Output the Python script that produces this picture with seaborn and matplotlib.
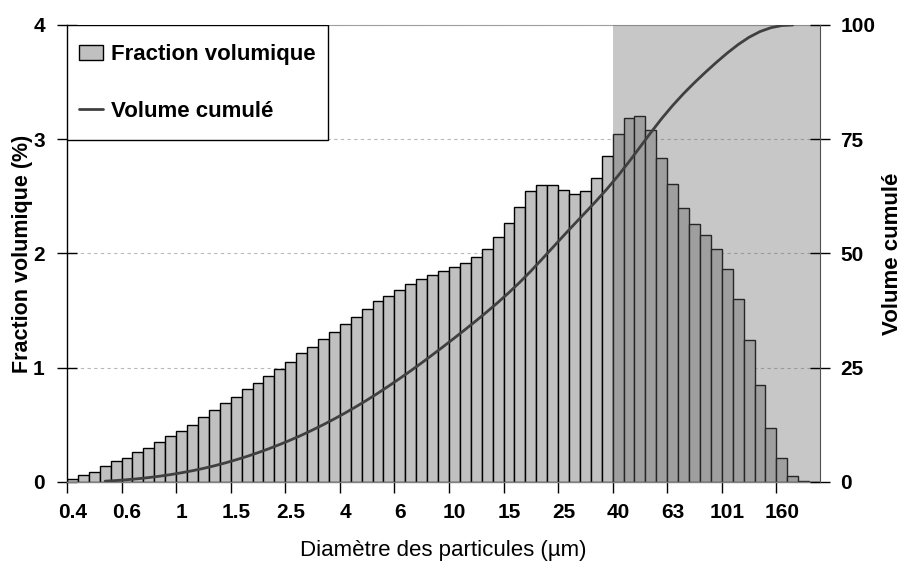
import numpy as np
import pandas as pd
import seaborn as sns
import matplotlib.pyplot as plt
from matplotlib.patches import Patch, Rectangle
from matplotlib.lines import Line2D

# Fraction volumique (%) par classe de diametre (69 classes, echelle log)
fraction = [0.03, 0.06, 0.09, 0.14, 0.18, 0.21, 0.26, 0.30, 0.35, 0.40,
            0.45, 0.50, 0.57, 0.63, 0.69, 0.74, 0.81, 0.87, 0.93, 0.99,
            1.05, 1.13, 1.18, 1.25, 1.31, 1.38, 1.44, 1.51, 1.58, 1.63,
            1.68, 1.73, 1.78, 1.81, 1.85, 1.88, 1.92, 1.97, 2.04, 2.14,
            2.27, 2.41, 2.55, 2.60, 2.60, 2.56, 2.52, 2.55, 2.66, 2.85,
            3.05, 3.19, 3.20, 3.08, 2.84, 2.61, 2.40, 2.26, 2.16, 2.04,
            1.86, 1.60, 1.24, 0.85, 0.47, 0.21, 0.05, 0.01, 0.00]

# Volume cumule (%)
cumul = [np.nan, np.nan, np.nan, 0.18, 0.32, 0.50, 0.71, 0.97, 1.27, 1.62,
         2.02, 2.47, 2.97, 3.54, 4.17, 4.86, 5.60, 6.41, 7.28, 8.21,
         9.20, 10.25, 11.38, 12.56, 13.81, 15.12, 16.50, 17.94, 19.45, 21.03,
         22.66, 24.34, 26.07, 27.85, 29.66, 31.51, 33.39, 35.31, 37.28, 39.32,
         41.46, 43.73, 46.14, 48.69, 51.29, 53.89, 56.45, 58.97, 61.52, 64.18,
         67.03, 70.08, 73.27, 76.47, 79.55, 82.39, 85.00, 87.40, 89.66, 91.82,
         93.86, 95.72, 97.32, 98.56, 99.41, 99.88, 100.0, np.nan, np.nan]

# une etiquette toutes les 5 classes
etiquettes = ["0.4", "0.6", "1", "1.5", "2.5", "4", "6", "10", "15", "25",
              "40", "63", "101", "160"]

df = pd.DataFrame({"classe": range(len(fraction)), "fraction": fraction, "cumul": cumul})

sns.set_theme(style="white")
plt.rcParams['font.family'] = ['Liberation Sans', 'DejaVu Sans']
plt.rcParams['text.color'] = 'black'
plt.rcParams['xtick.color'] = 'black'
plt.rcParams['ytick.color'] = 'black'
plt.rcParams['axes.labelcolor'] = 'black'

fig = plt.figure(figsize=(9.04, 5.63), dpi=100)
ax = fig.add_axes([0.0741, 0.1439, 0.833, 0.8117])

ax.grid(axis='y', color='#b8b8b8', linestyle=(0, (3, 3)), linewidth=0.8, zorder=0)
ax.set_axisbelow(True)

# histogramme
sns.barplot(data=df, x="classe", y="fraction", color="#c0c0c0", edgecolor="black",
            linewidth=1, width=1, saturation=1, errorbar=None, ax=ax, zorder=2)

# zone grisee au dela de 40 um
ax.axvspan(49.5, 68.5, color='#686868', alpha=0.37, lw=0, zorder=3)

ax.set_xlim(-0.5, 68.5)
ax.set_ylim(0, 4)
ax.set_xticks(range(0, 69, 5))
ax.set_xticklabels(etiquettes, fontsize=15, fontweight='bold')
ax.set_xticks(np.arange(-0.5, 65, 5), minor=True)
ax.tick_params(axis='x', which='major', length=0, pad=15, bottom=True)
ax.tick_params(axis='x', which='minor', length=8, width=1, direction='out', bottom=True)
ax.set_yticks([0, 1, 2, 3, 4])
ax.set_yticklabels(["0", "1", "2", "3", "4"], fontsize=15, fontweight='bold')
ax.tick_params(axis='y', direction='inout', length=14, width=1, left=True, pad=9)
ax.set_xlabel("Diamètre des particules (µm)", fontsize=16, labelpad=13)
ax.set_ylabel("Fraction volumique (%)", fontsize=15.5, fontweight='bold', labelpad=0)

ax.spines['left'].set_color('black')
ax.spines['left'].set_linewidth(1)
ax.spines['bottom'].set_color('#808080')
ax.spines['bottom'].set_linewidth(1)
ax.spines['top'].set_color('#a0a0a0')
ax.spines['top'].set_linewidth(0.8)
ax.spines['right'].set_visible(False)

# courbe cumulee sur le second axe
ax2 = ax.twinx()
sns.lineplot(data=df.dropna(subset=["cumul"]), x="classe", y="cumul", color="#404040",
             linewidth=2, ax=ax2)
ax2.set_ylim(0, 100)
ax2.set_xlim(-0.5, 68.5)
ax2.set_yticks([0, 25, 50, 75, 100])
ax2.set_yticklabels(["0", "25", "50", "75", "100"], fontsize=15, fontweight='bold')
ax2.tick_params(axis='y', direction='inout', length=15, width=1, right=True, pad=7)
ax2.set_ylabel("Volume cumulé", fontsize=16, fontweight='bold', labelpad=5)
ax2.grid(False)
for s in ['left', 'bottom', 'top']:
    ax2.spines[s].set_visible(False)
ax2.spines['right'].set_color('#505050')
ax2.spines['right'].set_linewidth(0.8)

# cadre de la legende
cadre = Rectangle((0, 0.7484), 0.3466, 0.2516, transform=ax2.transAxes,
                  facecolor='white', edgecolor='black', linewidth=1, zorder=4)
ax2.add_patch(cadre)

handles = [Patch(facecolor='#c0c0c0', edgecolor='black', linewidth=1),
           Line2D([], [], color='#404040', linewidth=2)]
leg = ax2.legend(handles, ["Fraction volumique", "Volume cumulé"], loc='center left',
                 bbox_to_anchor=(0.016, 0.873), borderaxespad=0, borderpad=0,
                 frameon=False, prop={'weight': 'bold', 'size': 16},
                 handlelength=1.1, handleheight=0.7, handletextpad=0.35,
                 labelspacing=1.6)
leg.set_zorder(5)

fig.savefig("out.png", dpi=100)
